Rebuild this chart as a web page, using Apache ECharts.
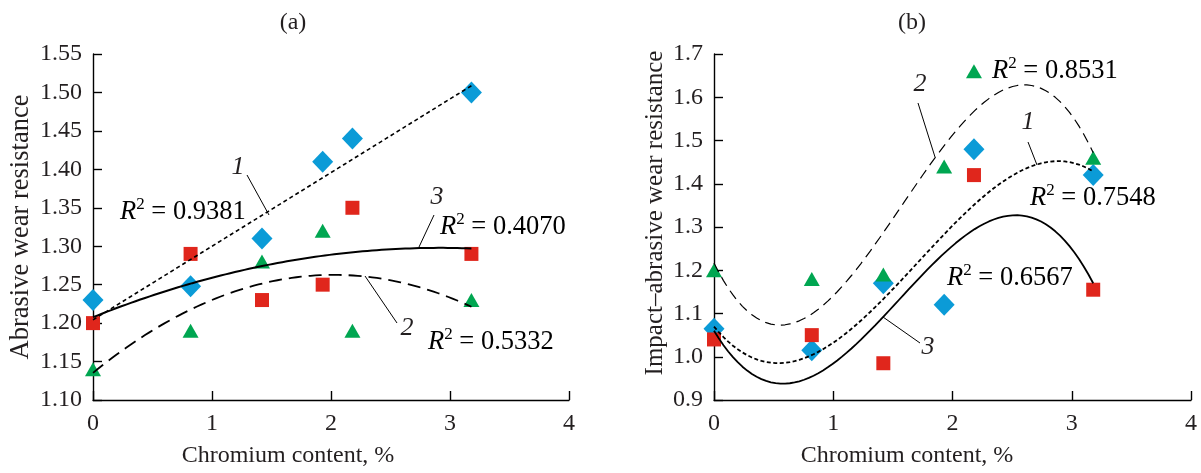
<!DOCTYPE html>
<html>
<head>
<meta charset="utf-8">
<script src="https://cdn.jsdelivr.net/npm/echarts@6/dist/echarts.min.js"></script>
<style>
html,body{margin:0;padding:0;background:#fff;}
#chart{width:1201px;height:473px;}
</style>
</head>
<body>
<div id="chart"></div>
<script>
// ---------------- DATA ----------------
const chromium = [0, 0.82, 1.42, 1.93, 2.18, 3.18];
// (a) Abrasive wear resistance
const abrasive1 = [1.23, 1.248, 1.31, 1.41, 1.44, 1.50];   // diamonds, curve 1
const abrasive2 = [1.14, 1.19, 1.28, 1.32, 1.19, 1.23];    // triangles, curve 2
const abrasive3 = [1.20, 1.29, 1.23, 1.25, 1.35, 1.29];    // squares, curve 3
// (b) Impact-abrasive wear resistance
const impact1 = [1.065, 1.015, 1.17, 1.12, 1.48, 1.42];    // diamonds, curve 1
const impact2 = [1.20, 1.18, 1.19, 1.44, 1.66, 1.46];      // triangles, curve 2
const impact3 = [1.04, 1.05, 0.985, 1.16, 1.42, 1.155];    // squares, curve 3
// the square at 1.93 % in (b) is used by its trend line but not marked in the original figure
const impact3Marked = [true, true, true, false, true, true];
const xTicks = [0, 1, 2, 3, 4];
const yTicksA = [1.10, 1.15, 1.20, 1.25, 1.30, 1.35, 1.40, 1.45, 1.50, 1.55];
const yTicksB = [0.9, 1.0, 1.1, 1.2, 1.3, 1.4, 1.5, 1.6, 1.7];
const r2A = ['0.9381', '0.5332', '0.4070'];
const r2B = ['0.7548', '0.8531', '0.6567'];
// trend degree per curve
const degA = [1, 2, 2];
const degB = [3, 3, 3];

// --------------- helpers ---------------
function polyfit(xs, ys, deg) {
  const n = deg + 1;
  const A = Array.from({length: n}, () => new Array(n + 1).fill(0));
  xs.forEach((x, k) => {
    const y = ys[k];
    if (y == null) return;
    for (let i = 0; i < n; i++) {
      for (let j = 0; j < n; j++) A[i][j] += Math.pow(x, i + j);
      A[i][n] += y * Math.pow(x, i);
    }
  });
  for (let c = 0; c < n; c++) {
    let p = c;
    for (let r = c + 1; r < n; r++) if (Math.abs(A[r][c]) > Math.abs(A[p][c])) p = r;
    [A[c], A[p]] = [A[p], A[c]];
    for (let r = 0; r < n; r++) {
      if (r === c) continue;
      const f = A[r][c] / A[c][c];
      for (let k = c; k <= n; k++) A[r][k] -= f * A[c][k];
    }
  }
  return A.map((row, i) => row[n] / A[i][i]);
}
function trend(xs, ys, deg) {
  const coef = polyfit(xs, ys, deg);
  const valid = xs.filter((x, i) => ys[i] != null);
  const x0 = Math.min(...valid), x1 = Math.max(...valid);
  const pts = [];
  const N = 80;
  for (let i = 0; i <= N; i++) {
    const x = x0 + (x1 - x0) * i / N;
    let y = 0;
    coef.forEach((c, k) => { y += c * Math.pow(x, k); });
    pts.push([x, y]);
  }
  return pts;
}
const pairs = (ys, mask) => chromium.map((x, i) => [x, ys[i]])
  .filter((p, i) => p[1] != null && (!mask || mask[i]));

const FONT = '"Liberation Serif", "Times New Roman", serif';
const INK = '#231f20';
const BLUE = '#0b9bd7', RED = '#e0261c', GREEN = '#00a651';

function xAxisCfg(gridIndex, padRight) {
  return {
    gridIndex, type: 'value', min: 0, max: 4, interval: 1,
    name: 'Chromium content, %', nameLocation: 'middle', nameGap: 44,
    nameTextStyle: {fontFamily: FONT, fontSize: 24, color: INK, padding: [0, padRight, 0, 0]},
    axisLine: {show: true, onZero: false, lineStyle: {color: '#000', width: 1.4}},
    axisTick: {show: true, inside: true, length: 9, lineStyle: {color: '#000', width: 1.4}},
    axisLabel: {fontFamily: FONT, fontSize: 24, color: INK, margin: 12},
    splitLine: {show: false}
  };
}
function yAxisCfg(gridIndex, min, max, interval, dec, name, gap, padLeft, nameSize) {
  return {
    gridIndex, type: 'value', min, max, interval,
    name, nameLocation: 'middle', nameGap: gap, nameRotate: 90,
    nameTextStyle: {fontFamily: FONT, fontSize: nameSize, color: INK, padding: [0, 0, 0, padLeft]},
    axisLine: {show: true, lineStyle: {color: '#000', width: 1.4}},
    axisTick: {show: true, inside: true, length: 9, lineStyle: {color: '#000', width: 1.4}},
    axisLabel: {fontFamily: FONT, fontSize: 24, color: INK, margin: 11,
      formatter: v => Number(v).toFixed(dec)},
    splitLine: {show: false}
  };
}
function scatter(xi, yi, ys, symbol, size, color, name, mask) {
  return {type: 'scatter', name, xAxisIndex: xi, yAxisIndex: yi, data: pairs(ys, mask),
    symbol, symbolSize: size, itemStyle: {color, opacity: 1}, z: 3, silent: true};
}
function line(xi, yi, ys, deg, dash, width, name) {
  return {type: 'line', name, xAxisIndex: xi, yAxisIndex: yi, data: trend(chromium, ys, deg),
    showSymbol: false, symbol: 'none', smooth: false, z: 4, silent: true,
    lineStyle: {color: '#000', width, type: dash}};
}

const rich = {
  r: {fontFamily: FONT, fontSize: 26.5, fontStyle: 'italic', color: INK, lineHeight: 30, verticalAlign: 'bottom'},
  s: {fontFamily: FONT, fontSize: 17, color: INK, lineHeight: 17, verticalAlign: 'top'},
  t: {fontFamily: FONT, fontSize: 26.5, color: INK, lineHeight: 30, verticalAlign: 'bottom'}
};
function r2Text(x, y, val) {
  return {type: 'text', left: x, top: y, silent: true,
    style: {text: '{r|R}{s|2}{t| = ' + val + '}', rich}};
}
function numText(x, y, n) {
  return {type: 'text', x, y, silent: true,
    style: {text: n, fontFamily: FONT, fontSize: 26, fontStyle: 'italic', fill: INK,
      align: 'center', verticalAlign: 'middle'}};
}
function leader(x1, y1, x2, y2) {
  return {type: 'line', silent: true, shape: {x1, y1, x2, y2}, style: {stroke: '#000', lineWidth: 1}};
}

const chart = echarts.init(document.getElementById('chart'), null, {renderer: 'canvas'});
chart.setOption({
  backgroundColor: '#fff',
  animation: false,
  title: [
    {text: '(a)', left: 288, top: 6, textAlign: 'center', textStyle: {fontFamily: FONT, fontSize: 24, fontWeight: 'normal', color: INK}},
    {text: '(b)', left: 907, top: 6, textAlign: 'center', textStyle: {fontFamily: FONT, fontSize: 24, fontWeight: 'normal', color: INK}}
  ],
  grid: [
    {left: 93, top: 54, width: 476, height: 346, containLabel: false},
    {left: 714, top: 54, width: 477, height: 346, containLabel: false}
  ],
  xAxis: [xAxisCfg(0, 86), xAxisCfg(1, 91)],
  yAxis: [
    yAxisCfg(0, 1.10, 1.55, 0.05, 2, 'Abrasive wear resistance', 58, 0, 26.5),
    yAxisCfg(1, 0.9, 1.7, 0.1, 1, 'Impact\u2013abrasive wear resistance', 46, 28, 25)
  ],
  series: [
    scatter(0, 0, abrasive1, 'diamond', [21, 22], BLUE, 'a1'),
    scatter(0, 0, abrasive3, 'rect', 14, RED, 'a3'),
    scatter(0, 0, abrasive2, 'triangle', [16, 14], GREEN, 'a2'),
    line(0, 0, abrasive1, degA[0], [4, 3], 1.6, 'fit a1'),
    line(0, 0, abrasive2, degA[1], [13, 7], 1.8, 'fit a2'),
    line(0, 0, abrasive3, degA[2], 'solid', 2, 'fit a3'),
    scatter(1, 1, impact1, 'diamond', [21, 22], BLUE, 'b1'),
    scatter(1, 1, impact3, 'rect', 14, RED, 'b3', impact3Marked),
    scatter(1, 1, impact2, 'triangle', [16, 14], GREEN, 'b2'),
    line(1, 1, impact1, degB[0], [4, 2.5], 1.8, 'fit b1'),
    line(1, 1, impact2, degB[1], [10, 6], 1.2, 'fit b2'),
    line(1, 1, impact3, degB[2], 'solid', 1.8, 'fit b3')
  ],
  graphic: [
    r2Text(120, 196, r2A[0]),
    r2Text(428, 326, r2A[1]),
    r2Text(440, 211, r2A[2]),
    numText(238, 167, '1'), numText(407, 328, '2'), numText(437, 197, '3'),
    leader(247, 175, 269, 215), leader(397, 323, 365, 276), leader(434, 215, 419, 247),
    r2Text(1030, 182, r2B[0]),
    r2Text(992, 55, r2B[1]),
    r2Text(947, 262, r2B[2]),
    numText(1028, 122, '1'), numText(920, 84, '2'), numText(928, 347, '3'),
    leader(1028, 142, 1037, 165), leader(918, 103, 935, 157), leader(920, 343, 883, 317)
  ]
});
</script>
</body>
</html>
